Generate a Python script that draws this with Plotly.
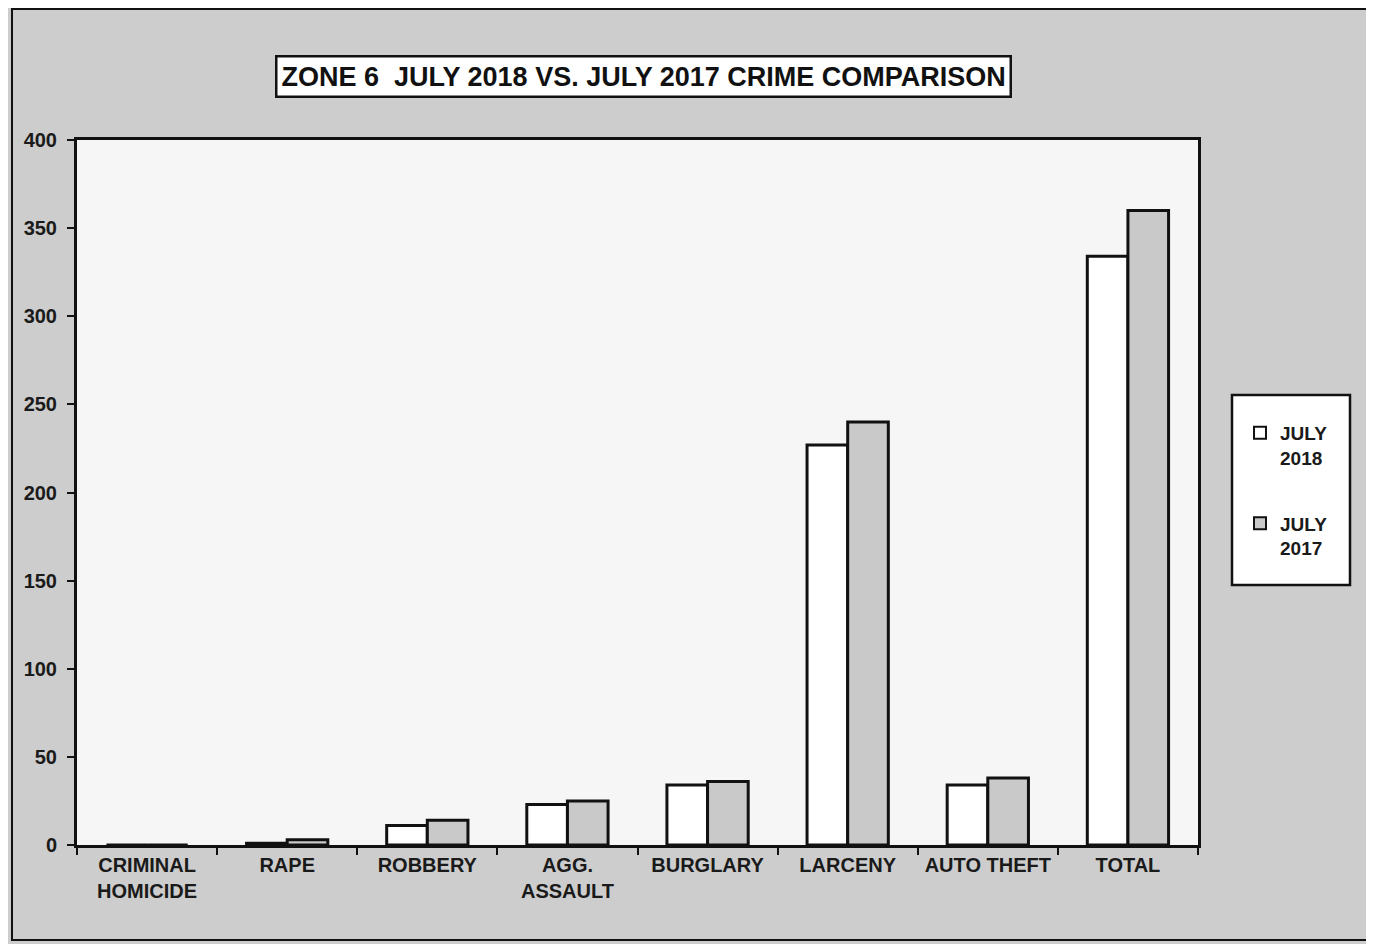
import plotly.graph_objects as go

categories = ["CRIMINAL<br>HOMICIDE", "RAPE", "ROBBERY", "AGG.<br>ASSAULT",
              "BURGLARY", "LARCENY", "AUTO THEFT", "TOTAL"]
july_2018 = [0, 1, 11, 23, 34, 227, 34, 334]
july_2017 = [0, 3, 14, 25, 36, 240, 38, 360]
y_ticks = [0, 50, 100, 150, 200, 250, 300, 350, 400]

FONT = "Liberation Sans, Arial, sans-serif"


def px_x(px):
    return (px - 77) / 1121


def px_y(py):
    return (845 - py) / 705


fig = go.Figure()
fig.add_trace(go.Bar(
    x=categories, y=july_2018, name="JULY<br>2018", legendgroup="a",
    marker=dict(color="#ffffff", line=dict(color="#111111", width=3)),
))
fig.add_trace(go.Bar(
    x=categories, y=july_2017, name="JULY<br>2017", legendgroup="b",
    marker=dict(color="#c9c9c9", line=dict(color="#111111", width=3)),
))

fig.update_layout(
    width=1366, height=936,
    margin=dict(l=69, r=176, t=132, b=99),
    paper_bgcolor="#cdcdcd",
    plot_bgcolor="#f6f6f6",
    barmode="group",
    bargap=0.42,
    bargroupgap=0.0,
    showlegend=True,
    legend=dict(
        x=px_x(1240), y=px_y(414), xanchor="left", yanchor="top",
        bgcolor="rgba(0,0,0,0)", borderwidth=0,
        font=dict(family=FONT, size=19, color="#1a1a1a", weight="bold"),
        traceorder="grouped", tracegroupgap=38, valign="top",
        itemsizing="constant",
    ),
    font=dict(family=FONT, color="#1a1a1a"),
    shapes=[
        dict(type="rect", xref="paper", yref="paper",
             x0=px_x(1232), x1=px_x(1350),
             y0=px_y(585), y1=px_y(395),
             fillcolor="#ffffff", line=dict(color="#111111", width=2.5),
             layer="below"),
        dict(type="rect", xref="paper", yref="paper",
             x0=px_x(12), x1=px_x(1372),
             y0=px_y(940), y1=px_y(9),
             fillcolor="rgba(0,0,0,0)", line=dict(color="#111111", width=2),
             layer="below"),
    ],
    annotations=[
        dict(text="<b>ZONE 6  JULY 2018 VS. JULY 2017 CRIME COMPARISON</b>",
             xref="paper", yref="paper", x=px_x(643), y=px_y(76),
             xanchor="center", yanchor="middle", showarrow=False,
             font=dict(family=FONT, size=27, color="#111111"),
             bgcolor="#ffffff", bordercolor="#111111", borderwidth=2.5, borderpad=4),
    ],
)

fig.update_xaxes(
    showline=True, linecolor="#111111", linewidth=3, mirror=True,
    ticks="outside", tickson="boundaries", ticklen=7, tickwidth=2, tickcolor="#111111",
    tickangle=0, automargin=False,
    tickfont=dict(family=FONT, size=20, color="#1a1a1a", weight="bold"),
    showgrid=False,
)
fig.update_yaxes(
    range=[0, 400], tickvals=y_ticks,
    showline=True, linecolor="#111111", linewidth=3, mirror=True,
    ticks="outside", ticklen=7, tickwidth=2, tickcolor="#111111",
    ticklabelstandoff=6, automargin=False,
    tickfont=dict(family=FONT, size=20, color="#1a1a1a", weight="bold"),
    showgrid=False, zeroline=False,
)

fig.write_html("out.html")
